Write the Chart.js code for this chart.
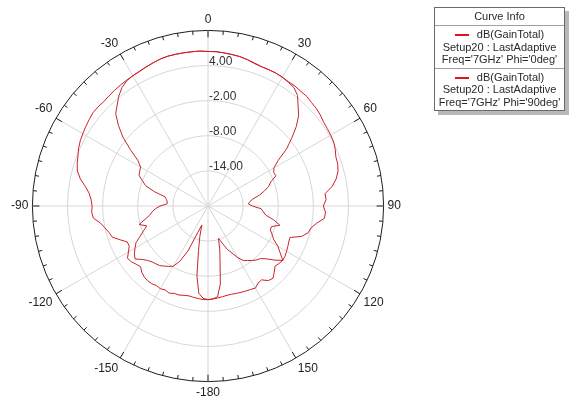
<!DOCTYPE html>
<html lang="en">
  <head>
    <meta charset="UTF-8" />
    <title>dB(GainTotal) polar plot</title>
    <script src="https://cdn.jsdelivr.net/npm/chart.js"></script>
    <style>
      body { margin: 0; background: #fff; }
      #wrap { position: relative; width: 571px; height: 403px; overflow: hidden; }
      #polar { position: absolute; left: 0; top: 0; }
      #legend {
        position: absolute; left: 434px; top: 7px; width: 129px;
        border: 1px solid #6a6a6a; background: #fff;
        box-shadow: 4px 4px 0 #b8b8b8;
        font: 11px "Liberation Sans", Arial, sans-serif; color: #2a2a2a;
        text-align: center;
      }
      #legend .hdr { height: 17px; line-height: 17px; border-bottom: 1px solid #a0a0a0; }
      #legend .entry { padding: 2px 0 2px 0; line-height: 12.5px; }
      #legend .entry + .entry { border-top: 1px solid #a0a0a0; }
      #legend .sw { display: inline-block; width: 14px; height: 0; border-top: 2px solid #e0141c; vertical-align: middle; margin-right: 8px; }
    </style>
  </head>
  <body>
    <div id="wrap">
      <canvas id="polar" width="571" height="403"></canvas>
      <div id="legend"></div>
    </div>

    <script>
      // theta in degrees, -180 at the bottom, going clockwise (0 at top)
      const theta = [
        -180, -177, -174, -171, -168, -165, -162, -159, -156, -153, -150, -147, -144, -141, -138,
        -135, -132, -129, -126, -123, -120, -117, -114, -111, -108, -105, -102, -99, -96, -93,
        -90, -87, -84, -81, -78, -75, -72, -69, -66, -63, -60, -57, -54, -51, -48,
        -45, -42, -39, -36, -33, -30, -27, -24, -21, -18, -15, -12, -9, -6, -3,
        0, 3, 6, 9, 12, 15, 18, 21, 24, 27, 30, 33, 36, 39, 42,
        45, 48, 51, 54, 57, 60, 63, 66, 69, 72, 75, 78, 81, 84, 87,
        90, 93, 96, 99, 102, 105, 108, 111, 114, 117, 120, 123, 126, 129, 132,
        135, 138, 141, 144, 147, 150, 153, 156, 159, 162, 165, 168, 171, 174, 177
      ];

      // dB(GainTotal), Phi = 0deg
      const gainPhi0 = [
        -4.0, -4.0, -4.1, -4.2, -4.3, -4.2, -4.0, -4.0, -3.7, -3.9, -3.7, -3.8, -3.6, -3.6, -3.7,
        -4.0, -4.5, -4.2, -3.8, -3.6, -4.3, -4.9, -4.9, -3.9, -2.8, -2.5, -2.0, -1.4, -0.3, -0.1,
        -0.2, 0.0, 0.4, 1.2, 2.3, 3.1, 3.5, 3.8, 4.2, 4.5, 4.7, 4.9, 5.1, 5.3, 5.3,
        5.2, 5.3, 5.4, 5.5, 5.6, 5.7, 5.8, 6.0, 6.2, 6.4, 6.5, 6.5, 6.5, 6.5, 6.5,
        6.4, 6.4, 6.3, 6.2, 6.1, 5.9, 5.6, 5.5, 5.5, 5.5, 5.4, 5.3, 5.3, 5.2, 5.2,
        5.0, 4.9, 4.7, 4.4, 4.3, 4.2, 4.1, 3.8, 3.4, 3.3, 3.0, 2.4, 1.5, 0.1, 0.2,
        -0.3, 0.1, 0.0, -1.2, -2.0, -2.3, -3.2, -5.0, -4.9, -4.7, -4.5, -4.3, -4.2, -4.4, -4.6,
        -4.0, -3.4, -3.6, -4.4, -4.3, -3.8, -4.0, -4.1, -4.2, -4.3, -4.4, -4.4, -4.3, -4.2, -4.1
      ];

      // dB(GainTotal), Phi = 90deg
      const gainPhi90 = [
        -4.0, -4.2, -5.0, -7.9, -12.2, -14.6, -16.6, -15.2, -11.6, -9.4, -8.1, -7.7, -7.3, -6.9, -6.7,
        -6.5, -6.1, -5.5, -4.6, -5.0, -5.6, -6.2, -7.3, -8.2, -9.0, -7.8, -9.0, -9.9, -10.4, -11.0,
        -11.8, -13.0, -13.0, -12.8, -12.5, -10.5, -8.8, -8.0, -7.1, -6.9, -6.7, -5.7, -3.6, -1.3, 0.6,
        2.3, 3.2, 4.2, 5.0, 5.5, 5.7, 5.8, 6.0, 6.2, 6.4, 6.5, 6.5, 6.5, 6.5, 6.5,
        6.4, 6.4, 6.3, 6.2, 6.1, 5.9, 5.7, 5.5, 5.5, 5.5, 5.4, 5.2, 5.0, 4.3, 3.0,
        1.9, 0.3, -1.6, -3.4, -5.7, -7.0, -7.4, -7.3, -8.5, -9.1, -10.0, -11.0, -12.2, -12.8, -13.1,
        -12.4, -10.9, -10.5, -10.0, -8.5, -7.3, -8.6, -8.6, -8.0, -7.4, -6.2, -5.3, -4.2, -5.3, -6.5,
        -7.3, -7.6, -8.0, -8.5, -8.9, -9.8, -11.0, -11.9, -13.2, -14.2, -12.2, -10.1, -6.5, -4.4, -4.1
      ];

      const ringLabels = [4, -2, -8, -14];
      const curveNames = ["Phi='0deg'", "Phi='90deg'"];
      const curveColors = ["#cf1f27", "#c4262d"];

      // legend box ("Curve Info")
      const legend = document.getElementById("legend");
      let html = '<div class="hdr">Curve Info</div>';
      curveNames.forEach((n) => {
        html += '<div class="entry"><span class="sw"></span>dB(GainTotal)<br>Setup20 : LastAdaptive<br>Freq=\'7GHz\' ' + n + "</div>";
      });
      legend.innerHTML = html;

      // outer ring tick marks + ring value labels
      const polarDecor = {
        id: "polarDecor",
        beforeDatasetsDraw(chart) {
          const s = chart.scales.r;
          const ctx = chart.ctx;
          const cx = s.xCenter, cy = s.yCenter, R = s.drawingArea;
          ctx.save();
          ctx.strokeStyle = "#1e1e1e";
          ctx.lineWidth = 1;
          for (let d = 0; d < 360; d += 5) {
            const a = (d * Math.PI) / 180;
            const len = d % 30 === 0 ? 7 : 4;
            ctx.beginPath();
            ctx.moveTo(cx + R * Math.sin(a), cy - R * Math.cos(a));
            ctx.lineTo(cx + (R - len) * Math.sin(a), cy - (R - len) * Math.cos(a));
            ctx.stroke();
          }
          ctx.font = '12px "Liberation Sans"';
          ctx.fillStyle = "#333";
          ctx.textAlign = "left";
          ctx.textBaseline = "middle";
          ringLabels.forEach((v) => {
            const r = s.getDistanceFromCenterForValue(v);
            ctx.fillText(v.toFixed(2), cx + 1, cy - r - 4);
          });
          ctx.restore();
        },
      };

      const ctx = document.getElementById("polar").getContext("2d");
      new Chart(ctx, {
        type: "radar",
        data: {
          labels: theta,
          datasets: [
            { label: curveNames[0], data: gainPhi0, borderColor: curveColors[0], borderWidth: 1, pointRadius: 0, fill: false },
            { label: curveNames[1], data: gainPhi90, borderColor: curveColors[1], borderWidth: 1, pointRadius: 0, fill: false },
          ],
        },
        options: {
          responsive: false,
          animation: false,
          layout: { padding: { left: 0, right: 157, top: 12, bottom: 2 } },
          plugins: { legend: { display: false }, tooltip: { enabled: false } },
          scales: {
            r: {
              min: -20,
              max: 10,
              startAngle: 180,
              ticks: { display: false, stepSize: 6 },
              grid: {
                circular: true,
                lineWidth: 1,
                color: (c) => (c.tick && c.tick.value === 10 ? "#1e1e1e" : "#d6d6d6"),
              },
              angleLines: {
                color: "#d6d6d6",
                lineWidth: (c) => (c.index % 10 === 0 ? 1 : 0),
              },
              pointLabels: {
                display: true,
                padding: 4,
                color: "#222",
                font: { family: "Liberation Sans", size: 12 },
                callback: (label, i) => (i % 10 === 0 ? String(label) : ""),
              },
            },
          },
        },
        plugins: [polarDecor],
      });
    </script>
  </body>
</html>
